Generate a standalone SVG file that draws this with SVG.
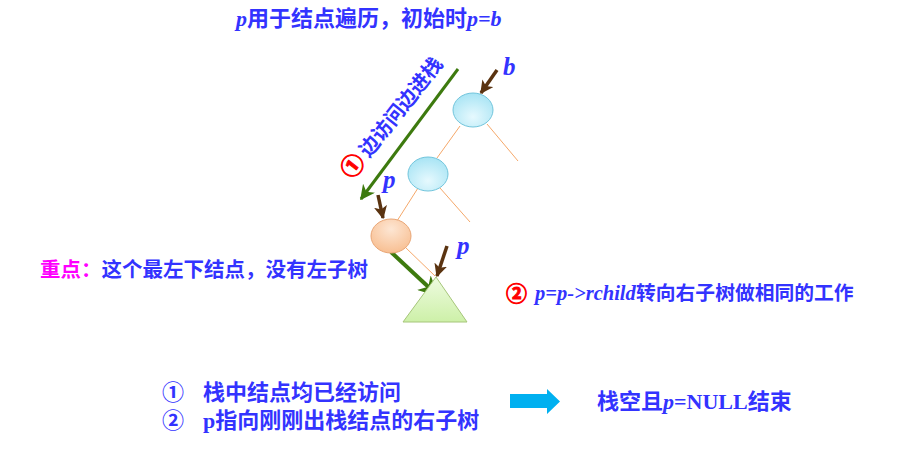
<svg xmlns="http://www.w3.org/2000/svg" width="916" height="452" viewBox="0 0 916 452">
<style>
.cjk{font-family:"Noto Sans CJK SC","Liberation Sans",sans-serif;font-weight:bold;fill:#3333ff}
.ser{font-family:"Liberation Serif",serif;font-weight:bold;font-style:italic;fill:#3333ff}
.serb{font-family:"Liberation Serif",serif;font-weight:bold;fill:#3333ff}
.red{fill:#ff0000;stroke:#ff0000;stroke-width:0.9}
.edge{stroke:#f5a86a;stroke-width:1;fill:none}
.green{stroke:#3d7a0e;fill:none}
.brown{stroke:#5a3310;stroke-width:3.5;fill:none}
</style>
<defs>
<radialGradient id="gBlue" cx="50%" cy="70%" r="70%">
<stop offset="0" stop-color="#e6f9fe"/><stop offset="1" stop-color="#a8e4f4"/>
</radialGradient>
<radialGradient id="gOrange" cx="50%" cy="30%" r="70%">
<stop offset="0" stop-color="#fde6d3"/><stop offset="1" stop-color="#f8bf92"/>
</radialGradient>
<linearGradient id="gTri" x1="0" y1="0" x2="0" y2="1">
<stop offset="0" stop-color="#eefbe0"/><stop offset="1" stop-color="#cdf0a8"/>
</linearGradient>
<marker id="mGreen" viewBox="0 0 10 10" refX="9" refY="5" markerWidth="5" markerHeight="5" orient="auto" markerUnits="strokeWidth">
<path d="M0,0 L10,5 L0,10 L3,5 z" fill="#3d7a0e"/>
</marker>
<marker id="mBrown" viewBox="0 0 10 10" refX="9" refY="5" markerWidth="3.8" markerHeight="3.8" orient="auto" markerUnits="strokeWidth">
<path d="M0,0 L10,5 L0,10 L2.5,5 z" fill="#5a3310"/>
</marker>
</defs>

<text class="cjk" x="236" y="26" font-size="22"><tspan class="ser">p</tspan>用于结点遍历，初始时<tspan class="ser">p=b</tspan></text>

<g id="connectors">
<line class="edge" x1="460" y1="126" x2="437" y2="158"/>
<line class="edge" x1="487" y1="124" x2="518" y2="161"/>
<line class="edge" x1="418" y1="188" x2="397" y2="221"/>
<line class="edge" x1="440" y1="188" x2="470" y2="222"/>
<line class="edge" x1="405" y1="247" x2="435" y2="276"/>
<line class="green" stroke-width="3" x1="458" y1="69" x2="361" y2="199" marker-end="url(#mGreen)"/>
<line class="green" stroke-width="4" x1="391" y1="252" x2="437" y2="295" marker-end="url(#mGreen)"/>
<line class="brown" x1="497" y1="70" x2="481" y2="93" marker-end="url(#mBrown)"/>
<line class="brown" x1="378" y1="195" x2="383" y2="218" marker-end="url(#mBrown)"/>
<line class="brown" x1="447" y1="246" x2="437" y2="276" marker-end="url(#mBrown)"/>
</g>

<g id="node-b">
<ellipse cx="473" cy="110" rx="20" ry="17" fill="url(#gBlue)" stroke="#72c5dc" stroke-width="1"/>
</g>
<g id="node-2">
<ellipse cx="428" cy="174" rx="20" ry="17" fill="url(#gBlue)" stroke="#72c5dc" stroke-width="1"/>
</g>
<g id="node-leftmost">
<ellipse cx="391" cy="236" rx="20" ry="17" fill="url(#gOrange)" stroke="#e9a676" stroke-width="1"/>
</g>
<g id="subtree">
<polygon points="436,277 403,322 467,322" fill="url(#gTri)" stroke="#a6c67a" stroke-width="1"/>
</g>

<text class="ser" x="503" y="75" font-size="25">b</text>
<text class="ser" x="383" y="188" font-size="25">p</text>
<text class="ser" x="457" y="254" font-size="25">p</text>

<text class="cjk" font-size="20" transform="translate(352,180) rotate(-51.6)"><tspan class="red" font-size="23">①</tspan> 边访问边进栈</text>

<text class="cjk" x="40" y="277" font-size="20.5"><tspan fill="#ff00ff">重点：</tspan>这个最左下结点，没有左子树</text>

<text class="cjk red" x="506" y="301" font-size="21">②</text>
<text class="ser" x="535" y="300" font-size="20.5">p=p-&gt;rchild</text>
<text class="cjk" x="636" y="300" font-size="19.8">转向右子树做相同的工作</text>

<text class="cjk" x="162" y="400" font-size="22">①</text>
<text class="cjk" x="203" y="400" font-size="22">栈中结点均已经访问</text>
<text class="cjk" x="162" y="428" font-size="22">②</text>
<text class="cjk" x="203" y="428" font-size="22"><tspan class="serb">p</tspan>指向刚刚出栈结点的右子树</text>

<polygon points="510,394 547,394 547,389 560,401.5 547,414 547,408 510,408" fill="#00b0f0"/>

<text class="cjk" x="597" y="409" font-size="22">栈空且<tspan class="ser">p</tspan><tspan class="serb">=NULL</tspan>结束</text>
</svg>
